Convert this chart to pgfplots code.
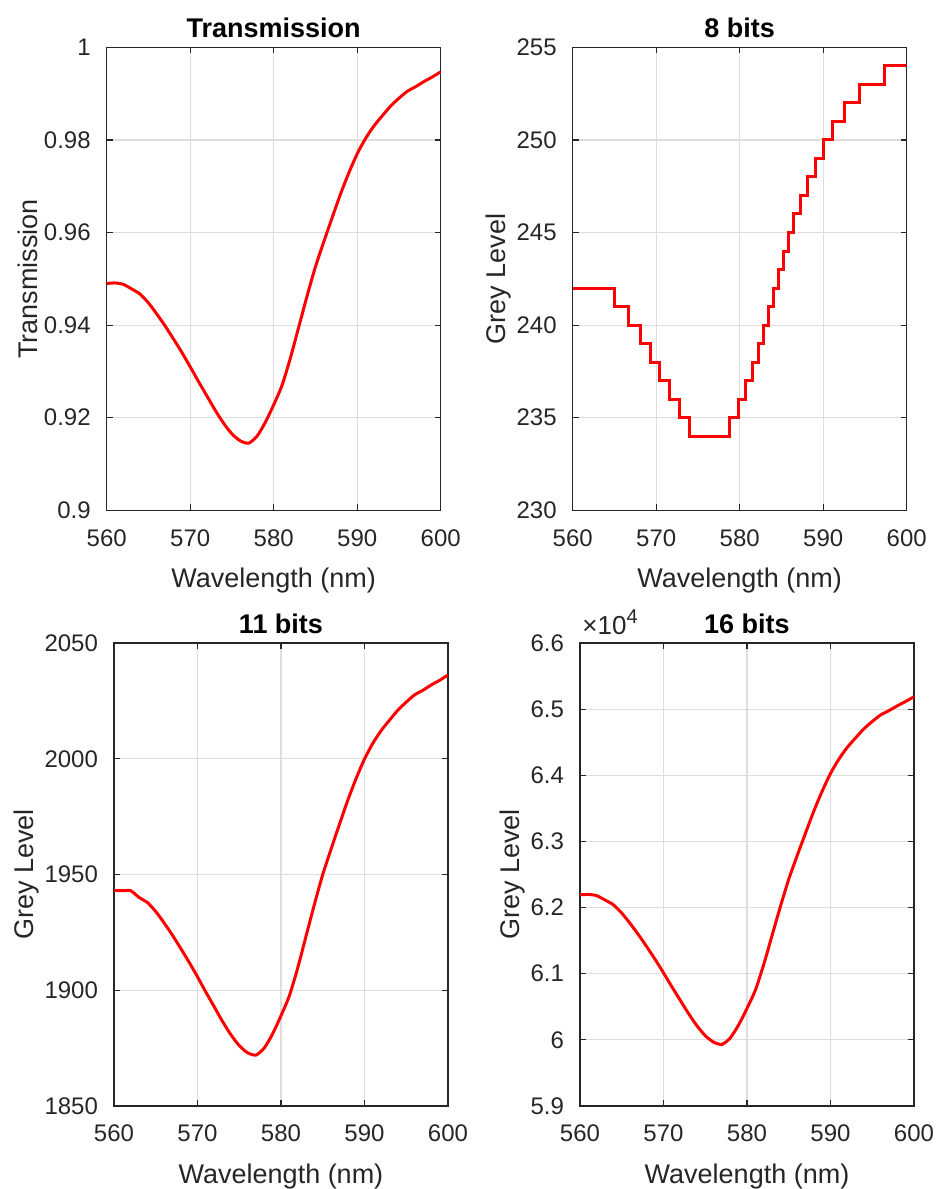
\documentclass[border=0pt]{standalone}
\usepackage{pgfplots}
\pgfplotsset{compat=1.18}
\usepackage{fontspec}
\setmainfont{Liberation Sans}
\definecolor{axgray}{rgb}{0.15,0.15,0.15}
\definecolor{gridgray}{rgb}{0.87,0.87,0.87}
\pgfplotsset{mstyle/.style={
  scale only axis, width=167pt, height=231.5pt, anchor=north west,
  xmin=560, xmax=600, xtick={560,570,...,600},
  grid=major, major grid style={gridgray, line width=0.6pt},
  axis line style={axgray, line width=0.6pt},
  major tick length=3pt, tick style={axgray, line width=0.6pt},
  tick label style={font=\fontsize{12}{14}\selectfont, text=axgray},
  xticklabel style={yshift=-6pt},
  yticklabel style={xshift=-4.5pt},
  label style={font=\fontsize{13.5}{16}\selectfont, text=axgray},
  xlabel style={yshift=-4pt},
  ylabel style={yshift=-4pt},
  title style={font=\bfseries\fontsize{13.5}{16}\selectfont, yshift=-5pt},
  /pgf/number format/assume math mode=true,
  /pgf/number format/1000 sep={},
  xlabel={Wavelength (nm)},
}}
\pgfplotsset{rline/.style={red, line width=1.5pt, no marks}}
\pgfplotstableread{
x T
560 0.9490
561 0.9491
562 0.9488
563 0.9478
564 0.9467
565 0.9448
566 0.9424
567 0.9398
568 0.9370
569 0.9341
570 0.9310
571 0.9278
572 0.9247
573 0.9216
574 0.9188
575 0.9165
576 0.9150
577 0.9145
578 0.9160
579 0.9190
580 0.9228
581 0.9270
582 0.9329
583 0.9396
584 0.9463
585 0.9526
586 0.9580
587 0.9632
588 0.9683
589 0.9729
590 0.9770
591 0.9803
592 0.9830
593 0.9852
594 0.9873
595 0.9890
596 0.9905
597 0.9915
598 0.9926
599 0.9936
600 0.9947
}\transtab
\pgfplotstableread{
x G
560 242
565.0 241
566.7 240
568.1 239
569.3 238
570.4 237
571.6 236
572.8 235
574.0 234
578.8 235
579.8 236
580.7 237
581.5 238
582.2 239
582.9 240
583.5 241
584.0 242
584.6 243
585.2 244
585.9 245
586.5 246
587.3 247
588.1 248
589.1 249
590.0 250
591.1 251
592.5 252
594.4 253
597.4 254
600 254
}\eighttab
\pgfplotstableread{
x G
560 1943
561 1943
562 1943
563 1940.1
564 1937.9
565 1934.0
566 1929.1
567 1923.8
568 1918.0
569 1912.1
570 1905.8
571 1899.2
572 1892.9
573 1886.5
574 1880.8
575 1876.1
576 1873.0
577 1872.0
578 1875.1
579 1881.2
580 1889.0
581 1897.6
582 1909.6
583 1923.4
584 1937.1
585 1950.0
586 1961.0
587 1971.7
588 1982.1
589 1991.5
590 1999.9
591 2006.7
592 2012.2
593 2016.7
594 2021.0
595 2024.5
596 2027.6
597 2029.6
598 2031.9
599 2033.9
600 2036.2
}\elevtab
\pgfplotstableread{
x G
560 62193
561 62199
562 62180
563 62114
564 62042
565 61917
566 61760
567 61590
568 61406
569 61216
570 61013
571 60803
572 60600
573 60397
574 60214
575 60063
576 59965
577 59932
578 60030
579 60227
580 60476
581 60751
582 61138
583 61577
584 62016
585 62429
586 62783
587 63123
588 63458
589 63759
590 64028
591 64244
592 64421
593 64565
594 64703
595 64814
596 64912
597 64978
598 65050
599 65116
600 65188
}\sixtab
\begin{document}
\begin{tikzpicture}
\useasboundingbox (0,0) rectangle (468.5pt,-594.5pt);
\begin{axis}[mstyle, at={(53.35pt,-23.65pt)},
  title={Transmission}, ylabel={Transmission},
  ymin=0.9, ymax=1, ytick={0.9,0.92,...,1.001}]
\addplot[rline, smooth, tension=0.4] table[x=x,y=T] {\transtab};
\end{axis}
\begin{axis}[mstyle, at={(286.35pt,-23.65pt)},
  title={8 bits}, ylabel={Grey Level},
  ymin=230, ymax=255, ytick={230,235,...,255}]
\addplot[rline, const plot] table[x=x,y=G] {\eighttab};
\end{axis}
\begin{axis}[mstyle, at={(57pt,-321.5pt)},
  title={11 bits}, ylabel={Grey Level},
  ymin=1850, ymax=2050, ytick={1850,1900,...,2050}]
\addplot[rline, smooth, tension=0.4] table[x=x,y=G] {\elevtab};
\end{axis}
\begin{axis}[mstyle, at={(290pt,-321.5pt)}, clip=false,
  title={16 bits}, ylabel={Grey Level},
  ymin=59000, ymax=66000, scaled y ticks=false,
  ytick={59000,60000,...,66000},
  yticklabels={5.9,6,6.1,6.2,6.3,6.4,6.5,6.6}]
\addplot[rline, smooth, tension=0.4] table[x=x,y=G] {\sixtab};
\node[anchor=south west, text=axgray, inner sep=0pt, yshift=4pt, xshift=1pt] at (rel axis cs:0,1) {\fontsize{13}{15}\selectfont ×10\raisebox{0.8ex}{\fontsize{10}{12}\selectfont 4}};
\end{axis}
\end{tikzpicture}
\end{document}
